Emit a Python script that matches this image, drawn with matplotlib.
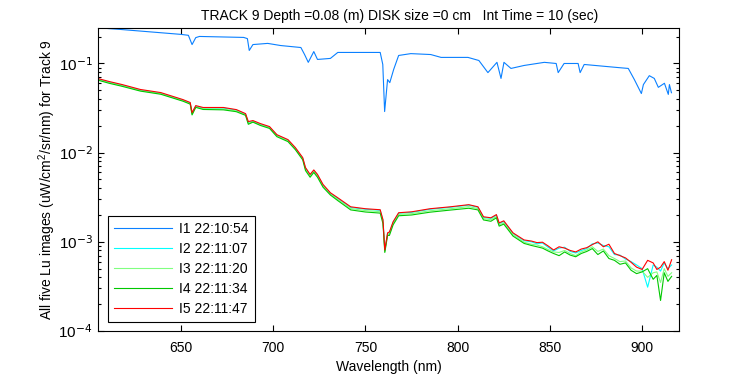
import matplotlib
matplotlib.use("Agg")
import matplotlib.pyplot as plt
import numpy as np
from matplotlib.ticker import LogLocator, NullFormatter, FixedLocator, FuncFormatter

plt.rcParams['font.family'] = ['Liberation Sans', 'DejaVu Sans']
plt.rcParams['mathtext.fontset'] = 'custom'
plt.rcParams['mathtext.rm'] = 'Liberation Sans'
plt.rcParams['mathtext.default'] = 'regular'

title = "TRACK 9 Depth =0.08 (m) DISK size =0 cm   Int Time = 10 (sec)"
xlabel = "Wavelength (nm)"
ylabel = "All five Lu images (uW/cm$^2$/sr/nm) for Track 9"
labels = ["I1 22:10:54", "I2 22:11:07", "I3 22:11:20", "I4 22:11:34", "I5 22:11:47"]
colors = ["#0a80ff", "#00ffff", "#80ff80", "#00c800", "#ff0000"]

wl_i1 = [606, 610, 617, 637, 650, 654, 656, 658, 660, 684, 686, 687, 689, 697, 704, 715, 717,
         719, 722, 724, 731, 735, 742, 758, 759.4, 760.4, 761.5, 762, 763.2, 765.3, 768, 774.6,
         785.4, 791, 805.6, 811.5, 816.4, 821.3, 823.5, 825.1, 828.9, 836, 847, 853.4, 854.5,
         857.7, 865.3, 866.4, 868.6, 887, 892.5, 895.8, 899.6, 900.7, 903.9, 906.6, 908.8, 912.1,
         914.2, 914.8, 915.9]
i1 = [0.250, 0.247, 0.241, 0.223, 0.212, 0.207, 0.163, 0.195, 0.201, 0.196, 0.190, 0.140, 0.163,
      0.168, 0.159, 0.151, 0.126, 0.103, 0.136, 0.111, 0.114, 0.133, 0.133, 0.133, 0.0975, 0.0289,
      0.051, 0.066, 0.061, 0.0857, 0.123, 0.129, 0.126, 0.117, 0.117, 0.108, 0.079, 0.103, 0.068,
      0.103, 0.088, 0.095, 0.103, 0.100, 0.079, 0.100, 0.100, 0.079, 0.0975, 0.090, 0.088, 0.066,
      0.046, 0.058, 0.073, 0.068, 0.054, 0.060, 0.045, 0.058, 0.047]

wl_lo = [605, 611, 618, 628, 639, 651, 655, 656, 658, 662, 673, 680, 685, 686.5, 689, 693, 698,
         702, 708, 712, 716, 717.5, 720, 722, 724, 727, 731, 735, 742, 750, 758, 759.5, 760.5,
         762, 763, 765, 768, 775, 785, 796, 806, 811, 814, 818, 821, 822.5, 825, 830, 836, 840,
         843, 846, 849, 852, 855, 858, 861, 864, 867, 870, 873, 876, 879, 882, 885, 888, 891,
         894, 897, 900, 903, 906, 908, 910, 912, 914, 916]

i2 = [0.0668, 0.0618, 0.0572, 0.0503, 0.0464, 0.0388, 0.0360, 0.0276, 0.0332, 0.0316, 0.0316,
      0.0300, 0.0270, 0.0218, 0.0225, 0.0208, 0.0193, 0.0157, 0.0138, 0.0112, 0.0086, 0.0067,
      0.0056, 0.0063, 0.0056, 0.0043, 0.00350, 0.00306, 0.00243, 0.00232, 0.00226, 0.00174,
      0.00080, 0.00124, 0.00127, 0.00165, 0.00209, 0.00214, 0.00232, 0.00244, 0.00258, 0.00244,
      0.00188, 0.00183, 0.00199, 0.00160, 0.00169, 0.00124, 0.00103, 0.00100, 0.00095, 0.00097,
      0.00087, 0.00079, 0.00085, 0.00087, 0.00078, 0.00075, 0.00080, 0.00084, 0.00095, 0.00097,
      0.00091, 0.00088, 0.00072, 0.00071, 0.00064, 0.00060, 0.00055, 0.00050, 0.00031, 0.00055,
      0.00052, 0.00047, 0.00058, 0.00050, 0.00055]

i3 = [0.0660, 0.0610, 0.0563, 0.0497, 0.0458, 0.0383, 0.0355, 0.0270, 0.0327, 0.0310, 0.0308,
      0.0294, 0.0266, 0.0213, 0.0222, 0.0205, 0.0190, 0.0154, 0.0136, 0.0110, 0.0085, 0.0065,
      0.0055, 0.0062, 0.0055, 0.0042, 0.00342, 0.00298, 0.00236, 0.00224, 0.00218, 0.00167,
      0.00078, 0.00121, 0.00123, 0.00160, 0.00203, 0.00207, 0.00223, 0.00235, 0.00248, 0.00236,
      0.00182, 0.00177, 0.00192, 0.00155, 0.00163, 0.00120, 0.00099, 0.00094, 0.00092, 0.00088,
      0.00082, 0.00077, 0.00076, 0.00080, 0.00074, 0.00070, 0.00077, 0.00081, 0.00088, 0.00078,
      0.00083, 0.00070, 0.00065, 0.00060, 0.00061, 0.00051, 0.00047, 0.00047, 0.00040, 0.00045,
      0.00046, 0.00035, 0.00050, 0.00041, 0.00045]

i4 = [0.0650, 0.0600, 0.0555, 0.0490, 0.0452, 0.0378, 0.0350, 0.0265, 0.0322, 0.0305, 0.0302,
      0.0288, 0.0262, 0.0208, 0.0220, 0.0202, 0.0187, 0.0151, 0.0133, 0.0108, 0.0083, 0.0063,
      0.0053, 0.0060, 0.0053, 0.0041, 0.00335, 0.00290, 0.00228, 0.00216, 0.00210, 0.00160,
      0.00076, 0.00118, 0.00118, 0.00155, 0.00196, 0.00200, 0.00215, 0.00227, 0.00238, 0.00228,
      0.00176, 0.00170, 0.00186, 0.00150, 0.00158, 0.00116, 0.00096, 0.00091, 0.00088, 0.00085,
      0.00079, 0.00074, 0.00070, 0.00077, 0.00071, 0.00068, 0.00074, 0.00078, 0.00084, 0.00072,
      0.00079, 0.00065, 0.00062, 0.00056, 0.00058, 0.00048, 0.00044, 0.00046, 0.00050, 0.00038,
      0.00042, 0.00022, 0.00045, 0.00036, 0.00041]

i5 = [0.0678, 0.0628, 0.0581, 0.0511, 0.0472, 0.0394, 0.0365, 0.0281, 0.0337, 0.0321, 0.0321,
      0.0304, 0.0274, 0.0223, 0.0229, 0.0212, 0.0196, 0.0159, 0.0140, 0.0114, 0.0088, 0.0068,
      0.0057, 0.0064, 0.0057, 0.0044, 0.00355, 0.00312, 0.00247, 0.00235, 0.00229, 0.00177,
      0.00081, 0.00126, 0.00129, 0.00168, 0.00212, 0.00217, 0.00235, 0.00247, 0.00261, 0.00247,
      0.00191, 0.00186, 0.00202, 0.00163, 0.00172, 0.00126, 0.00105, 0.00102, 0.00098, 0.00099,
      0.00090, 0.00081, 0.00088, 0.00085, 0.00080, 0.00077, 0.00083, 0.00086, 0.00093, 0.00100,
      0.00088, 0.00094, 0.00074, 0.00070, 0.00066, 0.00059, 0.00052, 0.00049, 0.00062, 0.00058,
      0.00049, 0.00052, 0.00060, 0.00048, 0.00063]

xticks = [650, 700, 750, 800, 850, 900]

fig = plt.figure(figsize=(7.5, 3.75), dpi=100)
ax = fig.add_axes([98/750, 44/375, 581/750, 303/375])

series = [(wl_i1, i1), (wl_lo, i2), (wl_lo, i3), (wl_lo, i4), (wl_lo, i5)]
for (x, y), c, lab in zip(series, colors, labels):
    ax.plot(x, y, color=c, lw=0.8, label=lab)

ax.set_yscale('log')
ax.set_xlim(605, 920)
ax.set_ylim(1e-4, 0.25)
ax.xaxis.set_major_locator(FixedLocator(xticks))
ax.yaxis.set_major_locator(LogLocator(base=10, numticks=10))
ax.yaxis.set_minor_locator(LogLocator(base=10, subs=range(2, 10), numticks=20))
ax.yaxis.set_minor_formatter(NullFormatter())
ax.yaxis.set_major_formatter(FuncFormatter(
    lambda v, p: r'$10^{\mathsf{%d}}$' % int(round(np.log10(v))) if v > 0 else ''))

ax.tick_params(which='both', direction='in', top=True, right=True, labelsize=10, width=0.8)
ax.tick_params(axis='x', pad=7)
ax.tick_params(axis='y', labelsize=11, pad=4)
ax.tick_params(which='major', length=4.5)
ax.tick_params(which='minor', length=2)
for s in ax.spines.values():
    s.set_linewidth(0.8)

ax.set_title(title, fontsize=10, pad=6, x=0.5 + 11/581)
ax.set_xlabel(xlabel, fontsize=10, labelpad=4)
ax.set_ylabel(ylabel, fontsize=10)
ax.yaxis.set_label_coords(-0.069, 0.5)

leg = ax.legend(loc='lower left', bbox_to_anchor=(0.017, 0.03), fontsize=10, frameon=True,
                fancybox=False, edgecolor='black', framealpha=1, handlelength=4.2,
                labelspacing=0.42, borderpad=0.45, handletextpad=0.5, borderaxespad=0)
leg.get_frame().set_linewidth(0.8)

fig.savefig("out.png", dpi=100)
